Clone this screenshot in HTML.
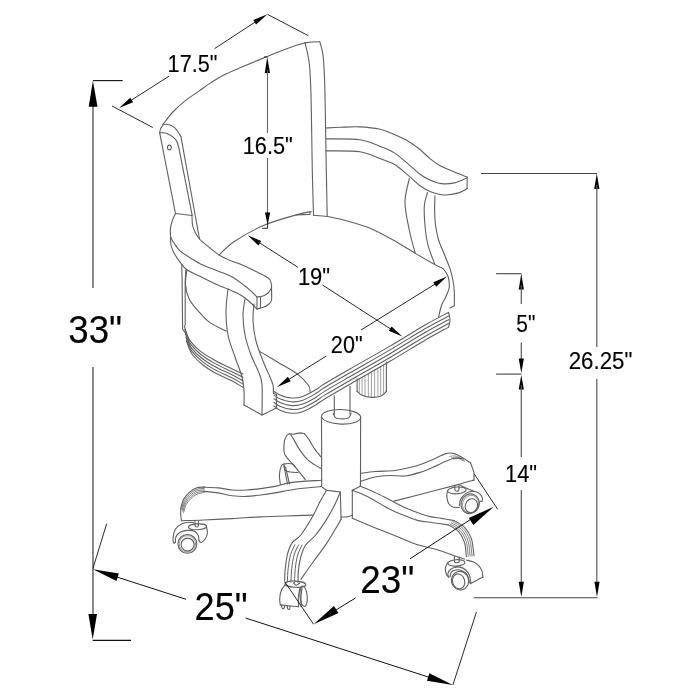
<!DOCTYPE html>
<html><head><meta charset="utf-8"><style>
html,body{margin:0;padding:0;background:#fff;width:700px;height:700px;overflow:hidden}
svg{display:block;will-change:transform}
text{font-family:"Liberation Sans",sans-serif;fill:#000;stroke:#000;stroke-width:0.15px}
</style></head><body>
<svg width="700" height="700" viewBox="0 0 700 700">
<g fill="none" stroke="#5f5f5f" stroke-width="1.1" stroke-linejoin="round" stroke-linecap="round">
<path d="M162.60,124.80C164.32,122.67 169.05,116.07 172.90,112.00C176.75,107.93 181.42,103.83 185.70,100.40C189.98,96.97 194.32,94.40 198.60,91.40C202.88,88.40 207.12,85.18 211.40,82.40C215.68,79.62 219.05,77.33 224.30,74.70C229.55,72.07 235.73,69.65 242.90,66.60C250.07,63.55 258.73,59.82 267.30,56.40C275.87,52.98 287.98,48.35 294.30,46.10C300.62,43.85 303.38,43.43 305.20,42.90"/>
<polyline points="305.20,42.90 312.00,42.00 319.70,41.70"/>
<path d="M305.10,42.90C305.82,46.47 308.40,55.02 309.40,64.30C310.40,73.58 310.62,80.75 311.10,98.60C311.58,116.45 311.90,151.98 312.30,171.40C312.70,190.82 313.30,207.82 313.50,215.10"/>
<path d="M319.70,41.70C320.27,44.03 322.23,47.65 323.10,55.70C323.97,63.75 324.42,73.57 324.90,90.00C325.38,106.43 325.62,133.30 326.00,154.30C326.38,175.30 327.00,205.72 327.20,216.00"/>
<path d="M159.71,132.86C159.90,132.10 160.00,129.71 160.86,128.29C161.71,126.86 162.67,124.48 164.86,124.29C167.05,124.10 171.33,125.14 174.00,127.14C176.67,129.14 179.71,134.76 180.86,136.29"/>
<path d="M159.71,132.86C160.95,132.95 164.48,132.29 167.14,133.43C169.81,134.57 173.81,137.52 175.71,139.71C177.62,141.90 178.10,145.43 178.57,146.57"/>
<polyline points="180.90,136.30 199.50,239.00"/>
<polyline points="178.60,146.60 192.20,215.40"/>
<polyline points="159.70,132.90 175.50,213.50"/>
<ellipse cx="169.4" cy="147.5" rx="1.9" ry="2.4" transform="rotate(0 169.4 147.5)"/>
<polyline points="175.50,213.50 192.00,215.50"/>
<path d="M175.50,213.50C175.00,214.58 173.33,217.58 172.50,220.00C171.67,222.42 170.83,225.50 170.50,228.00C170.17,230.50 170.42,233.33 170.50,235.00C170.58,236.67 170.92,237.50 171.00,238.00"/>
<path d="M171.00,238.00C171.50,238.83 172.50,240.85 174.00,243.00C175.50,245.15 177.48,248.55 180.00,250.90C182.52,253.25 185.28,254.73 189.10,257.10C192.92,259.47 198.13,262.80 202.90,265.10C207.67,267.40 212.95,268.98 217.70,270.90C222.45,272.82 226.85,274.08 231.40,276.60C235.95,279.12 241.40,283.27 245.00,286.00C248.60,288.73 251.00,291.17 253.00,293.00C255.00,294.83 256.33,296.33 257.00,297.00"/>
<path d="M170.50,237.00C170.58,238.33 170.42,242.33 171.00,245.00C171.58,247.67 172.50,250.17 174.00,253.00C175.50,255.83 177.85,259.22 180.00,262.00C182.15,264.78 183.47,267.27 186.90,269.70C190.33,272.13 196.03,274.32 200.60,276.60C205.17,278.88 209.73,281.32 214.30,283.40C218.87,285.48 224.22,287.50 228.00,289.10C231.78,290.70 234.17,291.52 237.00,293.00C239.83,294.48 242.50,296.17 245.00,298.00C247.50,299.83 250.00,302.17 252.00,304.00C254.00,305.83 256.17,308.17 257.00,309.00"/>
<path d="M192.00,215.50C192.08,217.08 192.00,222.25 192.50,225.00C193.00,227.75 193.83,229.67 195.00,232.00C196.17,234.33 197.23,236.52 199.50,239.00C201.77,241.48 205.37,244.25 208.60,246.90C211.83,249.55 215.10,252.53 218.90,254.90C222.70,257.27 227.88,259.58 231.40,261.10C234.92,262.62 236.07,262.35 240.00,264.00C243.93,265.65 250.83,269.00 255.00,271.00C259.17,273.00 262.50,274.50 265.00,276.00C267.50,277.50 268.92,278.50 270.00,280.00C271.08,281.50 271.25,283.67 271.50,285.00C271.75,286.33 271.50,287.50 271.50,288.00"/>
<path d="M271.50,288.00C270.92,288.83 269.42,291.67 268.00,293.00C266.58,294.33 264.83,295.33 263.00,296.00C261.17,296.67 258.00,296.83 257.00,297.00"/>
<path d="M271.50,288.00C271.50,290.00 271.92,297.33 271.50,300.00C271.08,302.67 270.25,302.83 269.00,304.00C267.75,305.17 266.00,306.17 264.00,307.00C262.00,307.83 258.17,308.67 257.00,309.00"/>
<polyline points="257.00,297.00 257.00,309.00"/>
<polyline points="260.50,297.00 260.50,308.00"/>
<path d="M326.00,128.00C328.33,127.88 334.33,127.48 340.00,127.30C345.67,127.12 353.33,126.57 360.00,126.90C366.67,127.23 374.28,128.02 380.00,129.30C385.72,130.58 389.53,132.58 394.30,134.60C399.07,136.62 404.32,138.92 408.60,141.40C412.88,143.88 416.43,146.63 420.00,149.50C423.57,152.37 426.67,155.90 430.00,158.60C433.33,161.30 436.43,163.68 440.00,165.70C443.57,167.72 446.88,168.80 451.40,170.70C455.92,172.60 464.48,176.03 467.10,177.10"/>
<path d="M326.00,138.90C331.67,139.03 351.00,138.45 360.00,139.70C369.00,140.95 374.28,144.20 380.00,146.40C385.72,148.60 389.53,149.92 394.30,152.90C399.07,155.88 404.32,160.73 408.60,164.30C412.88,167.87 416.43,171.68 420.00,174.30C423.57,176.92 426.43,178.45 430.00,180.00C433.57,181.55 437.35,183.12 441.40,183.60C445.45,184.08 450.02,183.85 454.30,182.90C458.58,181.95 464.97,178.73 467.10,177.90"/>
<path d="M326.00,150.90C331.67,151.03 351.00,150.42 360.00,151.70C369.00,152.98 374.28,156.50 380.00,158.60C385.72,160.70 389.53,161.45 394.30,164.30C399.07,167.15 404.32,172.13 408.60,175.70C412.88,179.27 416.43,183.08 420.00,185.70C423.57,188.32 425.95,189.85 430.00,191.40C434.05,192.95 439.53,194.75 444.30,195.00C449.07,195.25 454.80,193.97 458.60,192.90C462.40,191.83 465.68,189.32 467.10,188.60"/>
<polyline points="467.10,177.10 467.10,188.60"/>
<path d="M409.28,178.57C408.57,182.49 404.99,193.57 404.99,202.14C404.99,210.71 407.57,221.42 409.28,229.99C410.99,238.56 414.28,249.63 415.28,253.56"/>
<path d="M427.50,192.50C426.97,194.75 424.65,199.75 424.30,206.00C423.95,212.25 424.77,223.38 425.40,230.00C426.03,236.62 426.57,240.08 428.10,245.70C429.63,251.32 433.52,260.70 434.60,263.70"/>
<path d="M435.00,195.70C434.93,198.08 434.52,205.12 434.60,210.00C434.68,214.88 434.83,220.00 435.50,225.00C436.17,230.00 437.13,235.12 438.60,240.00C440.07,244.88 442.40,249.53 444.30,254.30C446.20,259.07 448.57,264.32 450.00,268.60C451.43,272.88 452.18,276.20 452.90,280.00C453.62,283.80 454.07,287.12 454.30,291.40C454.53,295.68 454.30,303.32 454.30,305.70"/>
<polyline points="454.30,305.70 450.00,307.90"/>
<path d="M219.00,255.00C221.67,252.67 227.22,246.07 235.00,241.00C242.78,235.93 254.87,229.12 265.70,224.60C276.53,220.08 292.38,216.05 300.00,213.90C307.62,211.75 309.50,212.07 311.40,211.70"/>
<path d="M313.30,215.30C315.68,215.50 322.08,215.60 327.60,216.50C333.12,217.40 340.40,219.13 346.40,220.70C352.40,222.27 358.83,224.28 363.60,225.90C368.37,227.52 369.93,227.97 375.00,230.40C380.07,232.83 387.22,236.63 394.00,240.50C400.78,244.37 408.98,249.63 415.70,253.60C422.42,257.57 429.77,261.80 434.30,264.30C438.83,266.80 440.77,266.93 442.90,268.60C445.03,270.27 446.15,272.65 447.10,274.30C448.05,275.95 448.35,277.80 448.60,278.50"/>
<polyline points="296.00,214.90 309.90,214.40 309.90,211.80"/>
<path d="M448.60,278.50C448.72,279.93 449.78,284.00 449.30,287.10C448.82,290.20 447.02,294.00 445.70,297.10C444.38,300.20 442.58,302.37 441.40,305.70C440.22,309.03 439.07,315.20 438.60,317.10"/>
<path d="M274.00,391.50C275.07,392.12 277.47,394.12 280.40,395.20C283.33,396.28 287.88,397.78 291.60,398.00C295.32,398.22 298.68,397.87 302.70,396.50C306.72,395.13 311.98,391.97 315.70,389.80C319.42,387.63 319.28,386.97 325.00,383.50C330.72,380.03 339.17,375.23 350.00,369.00C360.83,362.77 377.50,353.43 390.00,346.10C402.50,338.77 415.23,330.62 425.00,325.00C434.77,319.38 444.67,314.50 448.60,312.40"/>
<path d="M274.00,395.11C275.07,395.76 277.47,397.88 280.40,399.00C283.33,400.12 287.88,401.58 291.60,401.80C295.32,402.02 298.68,401.67 302.70,400.30C306.72,398.93 311.98,395.77 315.70,393.60C319.42,391.43 319.28,390.77 325.00,387.30C330.72,383.83 339.17,379.03 350.00,372.80C360.83,366.57 377.50,357.23 390.00,349.90C402.50,342.57 415.23,334.44 425.00,328.80C434.77,323.16 444.67,318.20 448.60,316.09"/>
<path d="M274.00,398.72C275.07,399.40 277.47,401.65 280.40,402.80C283.33,403.95 287.88,405.38 291.60,405.60C295.32,405.82 298.68,405.47 302.70,404.10C306.72,402.73 311.98,399.57 315.70,397.40C319.42,395.23 319.28,394.57 325.00,391.10C330.72,387.63 339.17,382.83 350.00,376.60C360.83,370.37 377.50,361.03 390.00,353.70C402.50,346.37 415.23,338.25 425.00,332.60C434.77,326.95 444.67,321.91 448.60,319.77"/>
<path d="M274.00,402.33C275.07,403.04 277.47,405.42 280.40,406.60C283.33,407.78 287.88,409.18 291.60,409.40C295.32,409.62 298.68,409.27 302.70,407.90C306.72,406.53 311.98,403.37 315.70,401.20C319.42,399.03 319.28,398.37 325.00,394.90C330.72,391.43 339.17,386.63 350.00,380.40C360.83,374.17 377.50,364.83 390.00,357.50C402.50,350.17 415.23,342.07 425.00,336.40C434.77,330.73 444.67,325.61 448.60,323.46"/>
<path d="M274.00,405.94C275.07,406.68 277.47,409.19 280.40,410.40C283.33,411.61 287.88,412.98 291.60,413.20C295.32,413.42 298.68,413.07 302.70,411.70C306.72,410.33 311.98,407.17 315.70,405.00C319.42,402.83 319.28,402.17 325.00,398.70C330.72,395.23 339.17,390.43 350.00,384.20C360.83,377.97 377.50,368.63 390.00,361.30C402.50,353.97 415.23,345.89 425.00,340.20C434.77,334.51 444.67,329.32 448.60,327.14"/>
<path d="M448.60,312.40C448.83,313.67 450.00,317.53 450.00,320.00C450.00,322.47 448.83,326.00 448.60,327.20"/>
<path d="M260.00,351.60C263.10,353.45 272.42,358.98 278.60,362.70C284.78,366.42 292.15,370.18 297.10,373.90C302.05,377.62 306.13,382.07 308.30,385.00C310.47,387.93 309.80,390.42 310.10,391.50"/>
<path d="M184.30,325.70C184.67,326.92 185.50,330.43 186.50,333.00C187.50,335.57 187.95,338.03 190.30,341.10C192.65,344.17 196.60,348.25 200.60,351.40C204.60,354.55 209.17,357.13 214.30,360.00C219.43,362.87 226.62,366.28 231.40,368.60C236.18,370.92 241.07,373.02 243.00,373.90"/>
<path d="M184.85,329.52C185.23,330.73 186.10,334.22 187.12,336.75C188.15,339.28 188.63,341.69 190.98,344.70C193.32,347.71 197.31,351.73 201.20,354.80C205.09,357.87 209.27,360.32 214.30,363.12C219.33,365.93 226.62,369.24 231.40,371.60C236.18,373.96 241.07,376.33 243.00,377.27"/>
<path d="M185.40,333.35C185.79,334.54 186.71,338.01 187.75,340.50C188.79,342.99 189.31,345.35 191.65,348.30C193.99,351.25 198.03,355.21 201.80,358.20C205.58,361.19 209.37,363.52 214.30,366.25C219.23,368.98 226.62,372.20 231.40,374.60C236.18,377.00 241.07,379.64 243.00,380.65"/>
<path d="M185.95,337.18C186.35,338.35 187.31,341.80 188.38,344.25C189.44,346.70 189.99,349.01 192.32,351.90C194.66,354.79 198.74,358.69 202.40,361.60C206.06,364.51 209.47,366.71 214.30,369.38C219.13,372.04 226.62,375.16 231.40,377.60C236.18,380.04 241.07,382.95 243.00,384.02"/>
<path d="M186.50,341.00C186.92,342.17 187.92,345.58 189.00,348.00C190.08,350.42 190.67,352.67 193.00,355.50C195.33,358.33 199.45,362.17 203.00,365.00C206.55,367.83 209.57,369.90 214.30,372.50C219.03,375.10 226.62,378.12 231.40,380.60C236.18,383.08 241.07,386.27 243.00,387.40"/>
<polyline points="181.70,264.00 182.10,280.00 182.60,329.00 186.00,334.00"/>
<polyline points="185.80,270.00 185.20,282.00 185.20,325.00"/>
<path d="M186.90,269.70C186.67,272.20 185.13,279.83 185.50,284.70C185.87,289.57 186.92,294.45 189.10,298.90C191.28,303.35 195.18,307.48 198.60,311.40C202.02,315.32 205.02,319.12 209.60,322.40C214.18,325.68 223.35,329.65 226.10,331.10"/>
<path d="M228.00,289.00C227.67,292.67 226.00,303.33 226.00,311.00C226.00,318.67 226.50,327.33 228.00,335.00C229.50,342.67 232.67,350.00 235.00,357.00C237.33,364.00 240.50,371.33 242.00,377.00C243.50,382.67 243.67,386.33 244.00,391.00C244.33,395.67 244.00,402.67 244.00,405.00"/>
<path d="M245.00,299.00C244.67,301.67 243.00,309.00 243.00,315.00C243.00,321.00 243.67,328.33 245.00,335.00C246.33,341.67 248.67,348.67 251.00,355.00C253.33,361.33 257.17,368.00 259.00,373.00C260.83,378.00 261.50,378.00 262.00,385.00C262.50,392.00 262.00,410.00 262.00,415.00"/>
<path d="M254.00,304.00C253.83,306.83 252.67,314.83 253.00,321.00C253.33,327.17 254.33,334.33 256.00,341.00C257.67,347.67 260.67,355.00 263.00,361.00C265.33,367.00 268.33,373.00 270.00,377.00C271.67,381.00 272.43,382.83 273.00,385.00C273.57,387.17 273.33,389.17 273.40,390.00"/>
<polyline points="273.40,390.00 273.40,393.50 276.50,394.50 276.50,408.00"/>
<polyline points="244.00,405.00 262.00,415.00 276.50,408.00"/>
<polyline points="334.29,395.71 334.29,415.00"/>
<polyline points="350.00,386.43 350.00,414.29"/>
<path d="M333.14,413.14C333.57,413.93 334.21,416.90 335.71,417.86C337.21,418.81 340.00,418.86 342.14,418.86C344.29,418.86 347.07,418.81 348.57,417.86C350.07,416.90 350.71,413.93 351.14,413.14"/>
<ellipse cx="341.1" cy="416.8" rx="19.6" ry="7.3" transform="rotate(2 341.1 416.8)"/>
<polyline points="321.50,417.00 321.70,486.00"/>
<polyline points="360.60,417.00 360.50,486.00"/>
<polyline points="359.30,378.73 359.30,392.80" stroke-width="0.6"/>
<polyline points="362.10,377.12 362.10,394.46" stroke-width="0.6"/>
<polyline points="365.00,375.44 365.00,395.90" stroke-width="0.6"/>
<polyline points="368.30,373.54 368.30,396.99" stroke-width="0.6"/>
<polyline points="371.40,371.75 371.40,397.40" stroke-width="0.6"/>
<polyline points="374.60,369.90 374.60,397.12" stroke-width="0.6"/>
<polyline points="377.90,368.00 377.90,396.14" stroke-width="0.6"/>
<polyline points="380.70,366.38 380.70,394.84" stroke-width="0.6"/>
<polyline points="383.60,364.71 383.60,393.17" stroke-width="0.6"/>
<polyline points="357.10,379.00 357.10,391.40"/>
<polyline points="386.40,362.00 386.40,391.40"/>
<path d="M357.10,391.40C357.92,392.05 359.57,394.30 362.00,395.30C364.43,396.30 368.53,397.28 371.70,397.40C374.87,397.52 378.55,397.00 381.00,396.00C383.45,395.00 385.50,392.17 386.40,391.40"/>
<path d="M203.60,487.10C205.98,487.23 213.15,487.42 217.90,487.90C222.65,488.38 227.35,489.65 232.10,490.00C236.85,490.35 241.63,490.23 246.40,490.00C251.17,489.77 255.93,489.20 260.70,488.60C265.47,488.00 270.02,487.40 275.00,486.40C279.98,485.40 282.85,483.63 290.60,482.60C298.35,481.57 316.35,480.60 321.50,480.20"/>
<path d="M203.60,491.40C205.98,491.65 213.15,492.18 217.90,492.90C222.65,493.62 227.35,495.12 232.10,495.70C236.85,496.28 241.63,496.52 246.40,496.40C251.17,496.28 255.93,495.58 260.70,495.00C265.47,494.42 269.28,493.85 275.00,492.90C280.72,491.95 287.25,490.37 295.00,489.30C302.75,488.23 317.08,486.97 321.50,486.50"/>
<path d="M204.30,487.10C203.07,487.20 199.38,486.83 196.90,487.70C194.42,488.57 191.60,490.40 189.40,492.30C187.20,494.20 185.12,496.53 183.70,499.10C182.28,501.67 181.37,506.27 180.90,507.70"/>
<path d="M204.30,488.48C203.07,488.62 199.34,488.43 196.93,489.32C194.51,490.22 191.90,492.00 189.80,493.85C187.70,495.70 185.70,497.94 184.32,500.45C182.95,502.96 182.03,507.49 181.58,508.90" stroke-width="0.8"/>
<path d="M204.30,489.85C203.08,490.03 199.30,490.02 196.95,490.95C194.60,491.88 192.20,493.59 190.20,495.40C188.20,497.21 186.27,499.35 184.95,501.80C183.62,504.25 182.70,508.72 182.25,510.10" stroke-width="0.8"/>
<path d="M204.30,491.23C203.08,491.45 199.26,491.62 196.97,492.57C194.69,493.53 192.50,495.19 190.60,496.95C188.70,498.71 186.85,500.76 185.57,503.15C184.30,505.54 183.37,509.94 182.92,511.30" stroke-width="0.8"/>
<path d="M204.30,492.60C203.08,492.87 199.22,493.22 197.00,494.20C194.78,495.18 192.80,496.78 191.00,498.50C189.20,500.22 187.43,502.17 186.20,504.50C184.97,506.83 184.03,511.17 183.60,512.50" stroke-width="0.8"/>
<polyline points="180.90,507.70 180.60,514.00 181.40,520.70"/>
<path d="M181.40,520.70C185.10,520.58 195.15,520.35 203.60,520.00C212.05,519.65 222.70,519.12 232.10,518.60C241.50,518.08 251.07,517.33 260.00,516.90C268.93,516.47 276.88,516.30 285.70,516.00C294.52,515.70 308.37,515.25 312.90,515.10"/>
<path d="M305.40,479.80C303.70,477.63 298.60,470.98 295.20,466.80C291.80,462.62 286.85,458.57 285.00,454.70C283.15,450.83 283.87,446.70 284.10,443.60C284.33,440.50 285.48,437.73 286.40,436.10C287.32,434.47 289.07,434.18 289.60,433.80"/>
<polyline points="289.60,433.80 293.40,434.30 297.10,433.40 301.70,432.90 304.50,433.80"/>
<path d="M290.60,434.30C291.07,435.07 291.85,436.27 293.40,438.90C294.95,441.53 297.58,446.68 299.90,450.10C302.22,453.52 304.83,456.93 307.30,459.40C309.77,461.87 312.33,463.37 314.70,464.90C317.07,466.43 320.37,467.98 321.50,468.60"/>
<path d="M304.50,433.80C305.27,434.82 307.40,437.35 309.10,439.90C310.80,442.45 312.63,446.17 314.70,449.10C316.77,452.03 320.37,456.10 321.50,457.50"/>
<path d="M280.40,484.40C280.23,482.85 279.25,478.18 279.40,475.10C279.55,472.02 280.52,467.75 281.30,465.90C282.08,464.05 282.25,464.32 284.10,464.00C285.95,463.68 290.55,463.53 292.40,464.00C294.25,464.47 294.73,466.33 295.20,466.80"/>
<polyline points="284.00,466.00 287.50,484.00"/>
<polyline points="285.50,467.00 289.50,484.00"/>
<path d="M284.10,464.00C284.25,465.00 284.02,468.67 285.00,470.00C285.98,471.33 287.83,471.58 290.00,472.00C292.17,472.42 296.67,472.42 298.00,472.50"/>
<path d="M326.60,490.30C325.45,492.30 321.98,498.02 319.70,502.30C317.42,506.58 316.05,510.55 312.90,516.00C309.75,521.45 304.27,530.52 300.80,535.00C297.33,539.48 294.33,539.63 292.10,542.90C289.87,546.17 288.57,550.02 287.40,554.60C286.23,559.18 285.55,565.95 285.10,570.40C284.65,574.85 284.77,579.48 284.70,581.30"/>
<path d="M340.30,492.00C339.43,494.00 337.38,499.43 335.10,504.00C332.82,508.57 329.83,514.23 326.60,519.40C323.37,524.57 319.22,530.70 315.70,535.00C312.18,539.30 307.98,541.53 305.50,545.20C303.02,548.87 301.98,552.80 300.80,557.00C299.62,561.20 298.87,566.22 298.40,570.40C297.93,574.58 298.07,580.15 298.00,582.10"/>
<polyline points="321.70,486.90 326.60,490.30 333.40,491.10 340.30,492.00"/>
<polyline points="340.30,492.00 341.10,519.40"/>
<path d="M341.10,519.40C338.68,523.40 331.30,536.25 326.60,543.40C321.90,550.55 317.18,556.30 312.90,562.30C308.62,568.30 302.90,576.55 300.90,579.40"/>
<path d="M294.90,544.80C294.18,546.43 291.72,550.73 290.60,554.60C289.48,558.47 288.73,563.55 288.20,568.00C287.67,572.45 287.53,579.08 287.40,581.30" stroke-width="1"/>
<path d="M298.45,545.00C297.73,546.63 295.27,550.93 294.15,554.80C293.03,558.67 292.28,563.65 291.75,568.20C291.22,572.75 291.08,579.78 290.95,582.10" stroke-width="1"/>
<path d="M302.00,545.20C301.28,546.83 298.82,551.13 297.70,555.00C296.58,558.87 295.83,563.75 295.30,568.40C294.77,573.05 294.63,580.48 294.50,582.90" stroke-width="1"/>
<path d="M341.10,516.90C342.10,516.90 345.23,517.20 347.10,516.90C348.97,516.60 351.43,515.40 352.30,515.10"/>
<polyline points="360.50,481.00 360.30,486.30 352.30,490.30"/>
<path d="M360.30,486.30C362.40,487.15 368.90,489.60 372.90,491.40C376.90,493.20 380.50,495.18 384.30,497.10C388.10,499.02 391.90,500.98 395.70,502.90C399.50,504.82 403.28,506.90 407.10,508.60C410.92,510.30 414.78,511.77 418.60,513.10C422.42,514.43 426.20,515.72 430.00,516.60C433.80,517.48 437.35,517.73 441.40,518.40C445.45,519.07 452.15,520.23 454.30,520.60"/>
<path d="M352.30,490.30C353.82,490.87 357.97,492.18 361.40,493.70C364.83,495.22 369.08,497.30 372.90,499.40C376.72,501.50 380.50,504.20 384.30,506.30C388.10,508.40 391.90,510.28 395.70,512.00C399.50,513.72 403.28,515.17 407.10,516.60C410.92,518.03 414.30,519.58 418.60,520.60C422.90,521.62 427.95,521.98 432.90,522.70C437.85,523.42 445.73,524.53 448.30,524.90"/>
<polyline points="352.30,490.30 352.30,518.30"/>
<path d="M352.30,518.30C355.73,519.73 365.67,523.95 372.90,526.90C380.13,529.85 388.08,532.97 395.70,536.00C403.32,539.03 411.70,542.82 418.60,545.10C425.50,547.38 431.15,547.93 437.10,549.70C443.05,551.47 449.72,554.13 454.30,555.70C458.88,557.27 462.88,558.53 464.60,559.10"/>
<path d="M454.30,520.60C456.02,521.73 461.75,524.40 464.60,527.40C467.45,530.40 469.83,533.88 471.40,538.60C472.97,543.32 473.57,552.85 474.00,555.70"/>
<path d="M452.80,521.68C454.52,522.81 460.28,525.48 463.10,528.48C465.92,531.48 468.20,535.10 469.70,539.68C471.20,544.25 471.68,553.22 472.07,555.93" stroke-width="0.8"/>
<path d="M451.30,522.75C453.02,523.88 458.82,526.55 461.60,529.55C464.38,532.55 466.57,536.32 468.00,540.75C469.43,545.18 469.79,553.58 470.15,556.15" stroke-width="0.8"/>
<path d="M449.80,523.83C451.52,524.96 457.35,527.62 460.10,530.62C462.85,533.62 464.95,537.53 466.30,541.83C467.65,546.12 467.90,553.95 468.23,556.38" stroke-width="0.8"/>
<path d="M448.30,524.90C450.02,526.03 455.88,528.70 458.60,531.70C461.32,534.70 463.32,538.75 464.60,542.90C465.88,547.05 466.02,554.32 466.30,556.60"/>
<path d="M360.50,473.50C362.92,473.17 369.25,472.00 375.00,471.50C380.75,471.00 389.17,471.17 395.00,470.50C400.83,469.83 405.83,468.47 410.00,467.50C414.17,466.53 416.18,466.02 420.00,464.70C423.82,463.38 428.62,461.45 432.90,459.60C437.18,457.75 442.13,454.60 445.70,453.60C449.27,452.60 451.43,452.88 454.30,453.60C457.17,454.32 460.18,456.33 462.90,457.90C465.62,459.47 469.32,462.15 470.60,463.00"/>
<path d="M360.50,481.50C362.92,480.75 370.08,478.00 375.00,477.00C379.92,476.00 385.00,475.67 390.00,475.50C395.00,475.33 400.00,476.52 405.00,476.00C410.00,475.48 415.35,473.85 420.00,472.40C424.65,470.95 428.62,469.15 432.90,467.30C437.18,465.45 442.13,462.80 445.70,461.30C449.27,459.80 451.58,458.77 454.30,458.30C457.02,457.83 460.72,458.47 462.00,458.50"/>
<polyline points="470.60,463.00 474.00,472.40 474.00,480.10"/>
<path d="M474.00,480.10C471.43,480.82 464.75,482.75 458.60,484.40C452.45,486.05 447.87,487.22 437.10,490.00C426.33,492.78 401.18,499.25 394.00,501.10"/>
<ellipse cx="197.6" cy="526.8" rx="9.1" ry="2.9" transform="rotate(-3 197.6 526.8)"/>
<path d="M195,521.3V525.5A1.7,1.5 0 0 0 198.4,525.5V521.3"/>
<path d="M206.50,526.50C206.65,527.63 207.63,531.22 207.40,533.30C207.17,535.38 206.05,537.48 205.10,539.00C204.15,540.52 202.55,541.90 201.70,542.40C200.85,542.90 200.47,542.28 200.00,542.00C199.53,541.72 199.08,540.92 198.90,540.70"/>
<path d="M175.40,542.40C175.50,541.45 175.13,538.42 176.00,536.70C176.87,534.98 178.60,533.15 180.60,532.10C182.60,531.05 185.62,530.48 188.00,530.40C190.38,530.32 193.18,530.73 194.90,531.60C196.62,532.47 197.63,534.08 198.30,535.60C198.97,537.12 198.80,539.85 198.90,540.70"/>
<path d="M175.40,542.40C175.12,542.50 174.08,543.75 173.70,543.00C173.32,542.25 172.82,540.18 173.10,537.90C173.38,535.62 173.87,531.68 175.40,529.30C176.93,526.92 180.02,524.78 182.30,523.60C184.58,522.42 187.15,522.33 189.10,522.20C191.05,522.07 193.18,522.70 194.00,522.80"/>
<ellipse cx="187.4" cy="543.9" rx="9.4" ry="9.4" transform="rotate(0 187.4 543.9)"/>
<ellipse cx="187.4" cy="543.9" rx="8.2" ry="8.2" transform="rotate(0 187.4 543.9)" stroke-width="0.6"/>
<ellipse cx="187.6" cy="544.6" rx="6.5" ry="6.5" transform="rotate(0 187.6 544.6)"/>
<ellipse cx="456.9" cy="490.4" rx="9.3" ry="3.4" transform="rotate(-4 456.9 490.4)"/>
<path d="M454.8,485.6V489.6A2.1,1.6 0 0 0 459,489.6V485"/>
<path d="M447.60,490.60C447.47,491.57 446.63,494.23 446.80,496.40C446.97,498.57 447.58,501.82 448.60,503.60C449.62,505.38 451.12,506.45 452.90,507.10C454.68,507.75 458.23,507.43 459.30,507.50"/>
<path d="M459.30,505.70C459.53,504.63 459.63,501.32 460.70,499.30C461.77,497.28 463.80,494.92 465.70,493.60C467.60,492.28 469.95,491.52 472.10,491.40C474.25,491.28 476.93,491.95 478.60,492.90C480.27,493.85 481.52,495.68 482.10,497.10C482.68,498.52 482.37,500.75 482.10,501.40C481.83,502.05 480.77,501.07 480.50,501.00"/>
<path d="M460.50,485.50C461.58,486.00 464.70,487.52 467.00,488.50C469.30,489.48 473.08,490.92 474.30,491.40"/>
<ellipse cx="470.2" cy="503.8" rx="9.0" ry="10.0" transform="rotate(20 470.2 503.8)"/>
<ellipse cx="470.6" cy="504.2" rx="8.0" ry="9.0" transform="rotate(20 470.6 504.2)" stroke-width="0.6"/>
<ellipse cx="471.4" cy="505.7" rx="6.0" ry="7.1" transform="rotate(20 471.4 505.7)"/>
<ellipse cx="456.4" cy="562.9" rx="8.6" ry="3.2" transform="rotate(-3 456.4 562.9)"/>
<path d="M454.4,556.4V561.2A2.4,1.6 0 0 0 459.2,561.2V557"/>
<path d="M447.80,562.50C447.40,563.40 445.63,565.93 445.40,567.90C445.17,569.87 445.87,572.77 446.40,574.30C446.93,575.83 448.23,576.63 448.60,577.10"/>
<path d="M448.60,577.10C448.48,576.52 447.67,574.78 447.90,573.60C448.13,572.42 448.93,571.02 450.00,570.00C451.07,568.98 452.63,567.98 454.30,567.50C455.97,567.02 458.10,566.68 460.00,567.10C461.90,567.52 464.15,568.68 465.70,570.00C467.25,571.32 468.47,573.10 469.30,575.00C470.13,576.90 470.52,579.97 470.70,581.40C470.88,582.83 470.45,583.23 470.40,583.60"/>
<path d="M450.00,577.00C450.23,576.18 450.45,573.27 451.40,572.10C452.35,570.93 454.03,570.28 455.70,570.00C457.37,569.72 459.62,569.80 461.40,570.40C463.18,571.00 465.20,572.23 466.40,573.60C467.60,574.97 468.12,577.05 468.60,578.60C469.08,580.15 469.18,582.18 469.30,582.90"/>
<path d="M466.40,560.00C467.60,560.35 471.45,561.03 473.60,562.10C475.75,563.17 477.88,564.85 479.30,566.40C480.72,567.95 481.50,569.62 482.10,571.40C482.70,573.18 482.77,576.15 482.90,577.10"/>
<polyline points="482.90,577.10 470.70,583.60"/>
<ellipse cx="460" cy="580.7" rx="8.6" ry="9.3" transform="rotate(-15 460 580.7)"/>
<ellipse cx="458.6" cy="581.4" rx="6.1" ry="7.5" transform="rotate(-15 458.6 581.4)"/>
<ellipse cx="295.4" cy="584.2" rx="10.4" ry="3.1" transform="rotate(3 295.4 584.2)"/>
<path d="M285.20,584.90C284.57,585.75 282.32,587.72 281.40,590.00C280.48,592.28 279.88,596.12 279.70,598.60C279.52,601.08 280.20,603.85 280.30,604.90"/>
<path d="M280.30,604.90C281.92,605.08 286.95,605.72 290.00,606.00C293.05,606.28 297.17,606.50 298.60,606.60"/>
<path d="M281.50,605.20C281.58,605.67 281.58,607.48 282.00,608.00C282.42,608.52 283.58,608.63 284.00,608.30C284.42,607.97 284.42,606.38 284.50,606.00"/>
<path d="M287.30,605.80C287.38,606.33 287.42,608.47 287.80,609.00C288.18,609.53 289.23,609.47 289.60,609.00C289.97,608.53 289.93,606.67 290.00,606.20"/>
<ellipse cx="303.6" cy="596.3" rx="3.6" ry="10.2" transform="rotate(-5 303.6 596.3)"/>
<path d="M299.90,588.30C299.65,589.75 298.62,593.95 298.40,597.00C298.18,600.05 298.57,605.00 298.60,606.60"/>
<path d="M302.00,588.00C301.83,589.50 301.17,593.92 301.00,597.00C300.83,600.08 301.00,604.92 301.00,606.50"/>
<path d="M293.40,582.80C293.87,583.20 295.13,585.17 296.20,585.20C297.27,585.23 299.20,583.37 299.80,583.00"/>
<path d="M449.20,456.40C450.37,456.35 453.82,455.58 456.20,456.10C458.58,456.62 462.28,458.93 463.50,459.50" stroke-width="0.6"/>
<path d="M451.40,457.80C452.40,457.73 455.30,456.97 457.40,457.40C459.50,457.83 462.90,459.90 464.00,460.40" stroke-width="0.6"/>
<path d="M453.60,459.20C454.43,459.12 456.78,458.35 458.60,458.70C460.42,459.05 463.52,460.87 464.50,461.30" stroke-width="0.6"/>
</g>
<line x1="92.90" y1="80.60" x2="122.70" y2="80.60" stroke="#111" stroke-width="1.1"/>
<line x1="93.00" y1="95.00" x2="93.00" y2="288.00" stroke="#4b4b4b" stroke-width="1.3"/>
<line x1="93.00" y1="367.00" x2="93.00" y2="625.00" stroke="#4b4b4b" stroke-width="1.3"/>
<polygon points="92.90,80.70 88.70,106.83 97.50,106.77" fill="#000"/>
<polygon points="92.70,639.60 97.00,613.90 88.40,613.90" fill="#000"/>
<line x1="92.70" y1="640.40" x2="131.00" y2="640.40" stroke="#111" stroke-width="1.1"/>
<text transform="matrix(0.9384 0 0 1 68.24 343.11)" font-size="39.12">33&quot;</text>
<line x1="92.90" y1="568.60" x2="106.70" y2="523.60" stroke="#111" stroke-width="0.9"/>
<polygon points="92.90,569.30 116.46,580.97 118.85,573.54" fill="#000"/>
<line x1="110.00" y1="574.80" x2="186.00" y2="599.30" stroke="#111" stroke-width="1.0"/>
<text transform="matrix(0.9466 0 0 1 194.60 620.12)" font-size="38.14">25&quot;</text>
<line x1="245.50" y1="618.00" x2="440.00" y2="680.80" stroke="#111" stroke-width="1.0"/>
<polygon points="452.90,685.00 429.34,673.33 426.95,680.76" fill="#000"/>
<line x1="452.90" y1="685.00" x2="476.40" y2="612.10" stroke="#111" stroke-width="0.9"/>
<line x1="285.00" y1="582.10" x2="313.60" y2="624.30" stroke="#111" stroke-width="0.9"/>
<polygon points="313.60,624.30 338.51,613.06 333.92,606.03" fill="#000"/>
<line x1="330.00" y1="613.60" x2="355.70" y2="597.90" stroke="#111" stroke-width="1.0"/>
<text transform="matrix(0.9660 0 0 1 360.16 593.12)" font-size="38.14">23&quot;</text>
<line x1="410.00" y1="558.80" x2="480.00" y2="513.30" stroke="#111" stroke-width="1.0"/>
<polygon points="493.70,506.80 468.79,518.04 473.38,525.07" fill="#000"/>
<line x1="474.30" y1="474.00" x2="497.70" y2="509.40" stroke="#111" stroke-width="0.9"/>
<line x1="112.00" y1="106.00" x2="152.80" y2="127.50" stroke="#111" stroke-width="0.9"/>
<polygon points="119.00,108.00 133.07,102.19 130.30,97.79" fill="#000"/>
<line x1="128.00" y1="102.30" x2="169.00" y2="76.20" stroke="#111" stroke-width="0.9"/>
<text transform="matrix(0.9268 0 0 1 167.60 71.57)" font-size="23.35">17.5&quot;</text>
<line x1="214.60" y1="48.60" x2="258.00" y2="20.20" stroke="#111" stroke-width="0.9"/>
<polygon points="267.40,14.30 253.33,20.11 256.10,24.51" fill="#000"/>
<line x1="267.40" y1="14.30" x2="308.30" y2="35.70" stroke="#111" stroke-width="0.9"/>
<polygon points="267.20,56.90 264.80,73.13 270.00,73.07" fill="#000"/>
<line x1="264.00" y1="57.00" x2="267.50" y2="57.00" stroke="#111" stroke-width="0.9"/>
<line x1="267.50" y1="70.00" x2="267.50" y2="133.00" stroke="#666" stroke-width="1.1"/>
<text transform="matrix(0.9223 0 0 1 242.70 153.96)" font-size="23.59">16.5&quot;</text>
<line x1="267.50" y1="158.00" x2="267.50" y2="215.00" stroke="#666" stroke-width="1.1"/>
<polygon points="267.60,225.00 270.20,212.60 265.00,212.60" fill="#000"/>
<line x1="267.60" y1="212.00" x2="267.60" y2="228.30" stroke="#111" stroke-width="0.9"/>
<line x1="262.10" y1="228.30" x2="267.80" y2="228.30" stroke="#111" stroke-width="0.9"/>
<polygon points="247.70,235.30 258.40,245.42 261.25,241.07" fill="#000"/>
<line x1="255.00" y1="240.00" x2="297.80" y2="267.20" stroke="#111" stroke-width="0.9"/>
<text transform="matrix(0.9458 0 0 1 297.88 284.77)" font-size="23.16">19&quot;</text>
<line x1="322.50" y1="285.00" x2="395.00" y2="331.80" stroke="#111" stroke-width="0.9"/>
<polygon points="402.30,336.60 391.60,326.48 388.75,330.83" fill="#000"/>
<polygon points="446.90,276.60 433.32,282.32 436.16,286.68" fill="#000"/>
<line x1="440.00" y1="281.00" x2="361.00" y2="330.00" stroke="#111" stroke-width="0.9"/>
<text transform="matrix(0.9278 0 0 1 330.86 352.67)" font-size="23.31">20&quot;</text>
<line x1="326.30" y1="356.00" x2="284.00" y2="382.40" stroke="#111" stroke-width="0.9"/>
<polygon points="277.10,386.90 290.68,381.18 287.84,376.82" fill="#000"/>
<line x1="496.10" y1="273.70" x2="521.50" y2="273.70" stroke="#444" stroke-width="1.1"/>
<polygon points="521.30,273.70 518.70,289.60 523.90,289.60" fill="#000"/>
<line x1="521.30" y1="285.00" x2="521.30" y2="304.10" stroke="#5a5a5a" stroke-width="1.2"/>
<text transform="matrix(0.8914 0 0 1 516.32 331.87)" font-size="23.50">5&quot;</text>
<line x1="521.30" y1="342.60" x2="521.30" y2="360.00" stroke="#5a5a5a" stroke-width="1.2"/>
<polygon points="521.30,373.00 523.90,358.40 518.70,358.40" fill="#000"/>
<line x1="496.10" y1="374.10" x2="521.50" y2="374.10" stroke="#444" stroke-width="1.1"/>
<polygon points="521.30,375.00 518.70,389.50 523.90,389.50" fill="#000"/>
<line x1="521.30" y1="385.00" x2="521.30" y2="457.00" stroke="#5a5a5a" stroke-width="1.2"/>
<text transform="matrix(0.9117 0 0 1 505.06 482.10)" font-size="23.84">14&quot;</text>
<line x1="521.30" y1="490.00" x2="521.30" y2="585.00" stroke="#5a5a5a" stroke-width="1.2"/>
<polygon points="521.30,597.00 523.90,581.70 518.70,581.70" fill="#000"/>
<line x1="473.70" y1="597.70" x2="597.50" y2="597.70" stroke="#444" stroke-width="1.1"/>
<line x1="481.00" y1="173.50" x2="597.00" y2="173.50" stroke="#444" stroke-width="1.1"/>
<polygon points="596.80,173.50 594.20,189.10 599.40,189.10" fill="#000"/>
<line x1="596.80" y1="185.00" x2="596.80" y2="347.00" stroke="#5a5a5a" stroke-width="1.2"/>
<text transform="matrix(0.9509 0 0 1 568.68 369.37)" font-size="23.45">26.25&quot;</text>
<line x1="596.80" y1="378.70" x2="596.80" y2="585.00" stroke="#5a5a5a" stroke-width="1.2"/>
<polygon points="597.00,597.00 599.60,581.70 594.40,581.70" fill="#000"/>
</svg>
</body></html>
